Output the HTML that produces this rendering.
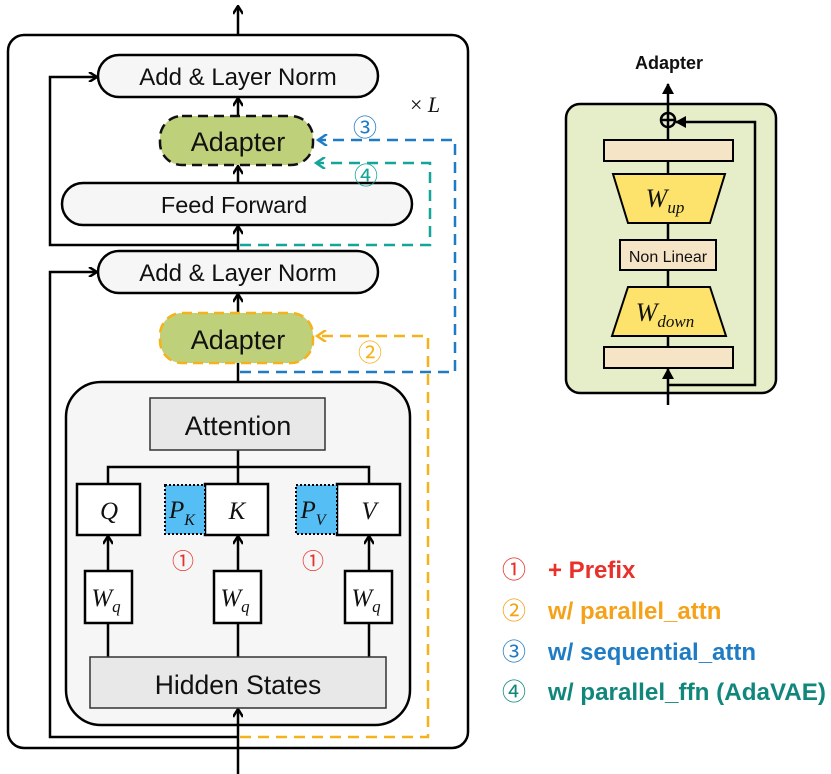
<!DOCTYPE html>
<html><head><meta charset="utf-8"><style>
html,body{margin:0;padding:0;background:#fff;}
svg{display:block;font-family:"Liberation Sans","DejaVu Sans",sans-serif;}
.s{font-family:"Liberation Serif",serif;font-style:italic;}
.c{font-family:"Noto Sans CJK SC","DejaVu Sans",sans-serif;font-weight:normal;}
</style></head><body>
<svg width="831" height="774" viewBox="0 0 831 774" xmlns="http://www.w3.org/2000/svg">
<defs>
<marker id="ab" markerWidth="10" markerHeight="10" refX="9" refY="5" orient="auto" markerUnits="userSpaceOnUse"><path d="M1,0 L9,5 L1,10" fill="none" stroke="#000" stroke-width="2.5"/></marker>
<marker id="abl" markerWidth="12" markerHeight="12" refX="10" refY="6" orient="auto" markerUnits="userSpaceOnUse"><path d="M1,0 L10,6 L1,12" fill="none" stroke="#1f7cc4" stroke-width="2.5"/></marker>
<marker id="atl" markerWidth="12" markerHeight="12" refX="10" refY="6" orient="auto" markerUnits="userSpaceOnUse"><path d="M1,0 L10,6 L1,12" fill="none" stroke="#14a59a" stroke-width="2.5"/></marker>
<marker id="aor" markerWidth="12" markerHeight="12" refX="10" refY="6" orient="auto" markerUnits="userSpaceOnUse"><path d="M1,0 L10,6 L1,12" fill="none" stroke="#f5b21a" stroke-width="2.5"/></marker>
<marker id="tri" markerWidth="12" markerHeight="12" refX="10" refY="6" orient="auto" markerUnits="userSpaceOnUse"><path d="M0,0 L11,6 L0,12 Z" fill="#000"/></marker>
</defs>
<g stroke="#000" stroke-width="2.5" fill="none">
<rect x="8" y="35" width="460" height="713" rx="16" fill="#fff"/>
<line x1="238" y1="35" x2="238" y2="6" marker-end="url(#ab)"/>
<polyline points="238,245 50,245 50,77 97,77" marker-end="url(#ab)"/>
<polyline points="238,737 50,737 50,272 97,272" marker-end="url(#ab)"/>
<line x1="238" y1="116" x2="238" y2="98" marker-end="url(#ab)"/>
<line x1="238" y1="183" x2="238" y2="166" marker-end="url(#ab)"/>
<line x1="238" y1="251" x2="238" y2="226" marker-end="url(#ab)"/>
<line x1="238" y1="313" x2="238" y2="294" marker-end="url(#ab)"/>
<line x1="238" y1="382" x2="238" y2="363"/>
</g>
<g stroke="#000" stroke-width="2.5">
<rect x="98" y="55" width="280" height="42" rx="21" fill="#f6f6f6"/>
<rect x="62" y="183" width="350" height="42" rx="21" fill="#f6f6f6"/>
<rect x="98" y="251" width="280" height="42" rx="21" fill="#f6f6f6"/>
</g>
<rect x="160" y="116" width="153" height="49" rx="22" fill="#bfd07a" stroke="#111" stroke-width="2.5" stroke-dasharray="10,6"/>
<rect x="160" y="313" width="153" height="50" rx="22" fill="#bfd07a" stroke="#f5b21a" stroke-width="2.5" stroke-dasharray="10,6"/>
<g font-size="24" text-anchor="middle" fill="#111">
<text x="238" y="85">Add &amp; Layer Norm</text>
<text x="234" y="213" font-size="23.5">Feed Forward</text>
<text x="238" y="281">Add &amp; Layer Norm</text>
<text x="238" y="151" font-size="27">Adapter</text>
<text x="238" y="349" font-size="27">Adapter</text>
</g>
<text x="410" y="112" class="s" font-size="22" fill="#111"><tspan font-style="normal">×</tspan> L</text>
<rect x="66" y="382" width="344" height="343" rx="35" fill="#f6f6f6" stroke="#000" stroke-width="2.5"/>
<polyline points="240,372 455,372 455,140 318,140" fill="none" stroke="#1f7cc4" stroke-width="2.5" stroke-dasharray="11,7" marker-end="url(#abl)"/>
<polyline points="240,245 430,245 430,163 316,163" fill="none" stroke="#14a59a" stroke-width="2.5" stroke-dasharray="11,7" marker-end="url(#atl)"/>
<polyline points="240,737 428,737 428,336 317,336" fill="none" stroke="#f5b21a" stroke-width="2.5" stroke-dasharray="11,7" marker-end="url(#aor)"/>
<g font-size="24" text-anchor="middle" class="c">
<text x="365" y="136" fill="#1f7cc4">③</text>
<text x="366" y="184" fill="#14a59a">④</text>
<text x="370" y="361" fill="#f5b21a">②</text>
</g>
<g stroke="#000" stroke-width="2.5" fill="none">
<polyline points="108,484 108,467 369,467 369,484"/>
<line x1="238" y1="450" x2="238" y2="484"/>
<line x1="108" y1="657" x2="108" y2="623"/><line x1="108" y1="571" x2="108" y2="536" marker-end="url(#ab)"/>
<line x1="238" y1="657" x2="238" y2="623"/><line x1="238" y1="571" x2="238" y2="536" marker-end="url(#ab)"/>
<line x1="369" y1="657" x2="369" y2="623"/><line x1="369" y1="571" x2="369" y2="536" marker-end="url(#ab)"/>
<line x1="238" y1="774" x2="238" y2="709" marker-end="url(#ab)"/>
</g>
<rect x="150" y="398" width="175" height="52" fill="#e8e8e8" stroke="#333" stroke-width="1.5"/>
<rect x="90" y="657" width="296" height="51" fill="#e8e8e8" stroke="#333" stroke-width="1.5"/>
<text x="238" y="435" font-size="27" text-anchor="middle" fill="#111">Attention</text>
<text x="238" y="694" font-size="26.5" text-anchor="middle" fill="#111">Hidden States</text>
<g stroke="#000" stroke-width="2.5" fill="#fff">
<rect x="77" y="484" width="63" height="51"/>
<rect x="205" y="484" width="63" height="51"/>
<rect x="337" y="484" width="63" height="51"/>
<rect x="85" y="571" width="47" height="52"/>
<rect x="214" y="571" width="47" height="52"/>
<rect x="345" y="571" width="47" height="52"/>
</g>
<rect x="165" y="485" width="40" height="49" fill="#55bff5" stroke="#000" stroke-width="2" stroke-dasharray="2,2"/>
<rect x="296" y="485" width="41" height="49" fill="#55bff5" stroke="#000" stroke-width="2" stroke-dasharray="2,2"/>
<g class="s" font-size="25" fill="#111" text-anchor="middle">
<text x="109" y="519">Q</text>
<text x="237" y="519">K</text>
<text x="369" y="519">V</text>
<text x="182" y="518">P<tspan font-size="16" dy="7">K</tspan></text>
<text x="313" y="518">P<tspan font-size="16" dy="7">V</tspan></text>
<text x="106" y="606">W<tspan font-size="17" dy="6">q</tspan></text>
<text x="235" y="606">W<tspan font-size="17" dy="6">q</tspan></text>
<text x="366" y="606">W<tspan font-size="17" dy="6">q</tspan></text>
</g>
<text x="183" y="569" font-size="22" text-anchor="middle" fill="#e8312a" class="c">①</text>
<text x="313" y="569" font-size="22" text-anchor="middle" fill="#e8312a" class="c">①</text>
<text x="669" y="69" font-size="18" font-weight="bold" text-anchor="middle" fill="#111">Adapter</text>
<rect x="566" y="104" width="210" height="289" rx="14" fill="#e5edc9" stroke="#000" stroke-width="2.5"/>
<g stroke="#000" stroke-width="2.5" fill="none">
<line x1="668" y1="405" x2="668" y2="369" marker-end="url(#tri)"/>
<line x1="668" y1="113" x2="668" y2="84" marker-end="url(#tri)"/>
<line x1="668" y1="127" x2="668" y2="347"/>
<polyline points="668,385 755,385 755,122 676,122" marker-end="url(#tri)"/>
<circle cx="668" cy="120" r="7" fill="#e5edc9"/>
<line x1="661" y1="120" x2="675" y2="120"/><line x1="668" y1="113" x2="668" y2="127"/>
</g>
<g stroke="#000" stroke-width="2">
<rect x="604" y="140" width="129" height="21" fill="#f5e4c6"/>
<polygon points="613,174 725,174 710,223 628,223" fill="#fde36c"/>
<rect x="620" y="240" width="96" height="30" fill="#f5e4c6"/>
<polygon points="628,287 710,287 726,336 612,336" fill="#fde36c"/>
<rect x="604" y="347" width="129" height="21" fill="#f5e4c6"/>
</g>
<text x="668" y="262" font-size="16" text-anchor="middle" fill="#111">Non Linear</text>
<text x="665" y="207" class="s" font-size="26" text-anchor="middle" fill="#111">W<tspan font-size="17" dy="6">up</tspan></text>
<text x="665" y="321" class="s" font-size="26" text-anchor="middle" fill="#111">W<tspan font-size="17" dy="6">down</tspan></text>
<g font-size="24" font-weight="bold">
<text x="502" y="578" fill="#e8312a" class="c">①</text><text x="548" y="578" fill="#e8312a">+ Prefix</text>
<text x="502" y="619" fill="#f5a21a" class="c">②</text><text x="548" y="619" fill="#f5a21a">w/ parallel_attn</text>
<text x="502" y="660" fill="#1f7cc4" class="c">③</text><text x="548" y="660" fill="#1f7cc4">w/ sequential_attn</text>
<text x="502" y="700" fill="#11877c" class="c">④</text><text x="548" y="700" fill="#11877c" textLength="278" lengthAdjust="spacingAndGlyphs">w/ parallel_ffn (AdaVAE)</text>
</g>
</svg>
</body></html>
